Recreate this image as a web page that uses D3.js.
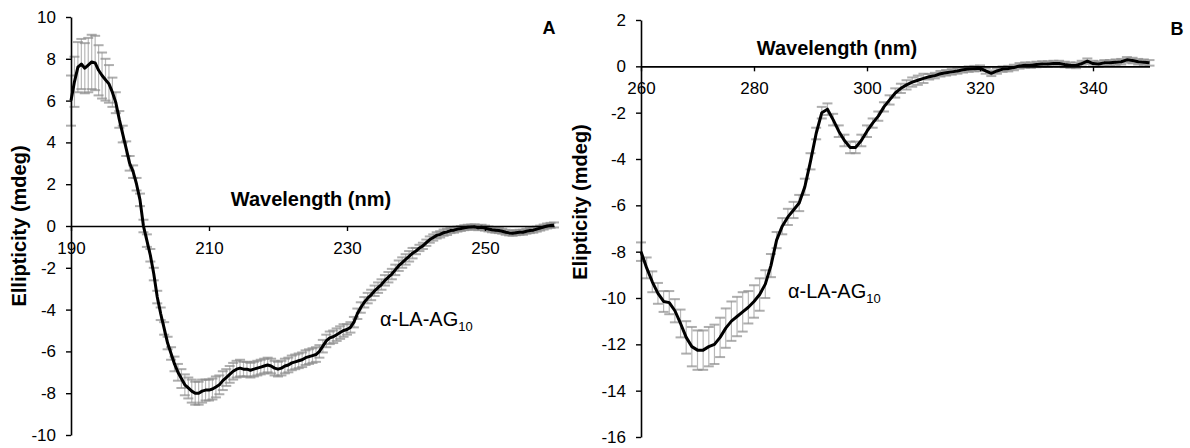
<!DOCTYPE html>
<html>
<head>
<meta charset="utf-8">
<script src="https://cdn.jsdelivr.net/npm/d3@7"></script>
<style>
  body { margin: 0; background: #fff; }
  svg { display: block; font-family: "Liberation Sans", Arial, sans-serif; }
</style>
</head>
<body>
<svg id="chart" width="1190" height="448"></svg>
<script>
// Panel A: far-UV CD, 190-260 nm, read every 0.5 nm
const wavelengthA = d3.range(190, 260.01, 0.5);
const ellipticityA = [
  6.0, 6.9, 7.6, 7.75, 7.55, 7.7, 7.85, 7.8, 7.45, 7.2,
  7.0, 6.8, 6.4, 5.9, 5.1, 4.4, 3.7, 3.0, 2.6, 2.0,
  1.25, 0.0, -0.7, -1.4, -2.3, -3.4, -4.2, -4.9, -5.6, -6.1,
  -6.6, -7.0, -7.3, -7.6, -7.75, -7.9, -8.0, -8.0, -7.9, -7.85,
  -7.85, -7.8, -7.7, -7.6, -7.4, -7.25, -7.1, -6.95, -6.85, -6.8,
  -6.85, -6.85, -6.9, -6.85, -6.8, -6.75, -6.7, -6.65, -6.7, -6.8,
  -6.85, -6.8, -6.7, -6.65, -6.55, -6.5, -6.45, -6.4, -6.3, -6.25,
  -6.2, -6.15, -6.0, -5.75, -5.5, -5.35, -5.3, -5.2, -5.1, -5.0,
  -4.95, -4.85, -4.6, -4.2, -3.9, -3.65, -3.45, -3.3, -3.1, -2.95,
  -2.8, -2.6, -2.45, -2.3, -2.1, -1.9, -1.75, -1.6, -1.45, -1.3,
  -1.2, -1.05, -0.95, -0.8, -0.65, -0.55, -0.45, -0.4, -0.32, -0.28,
  -0.22, -0.2, -0.15, -0.12, -0.08, -0.06, -0.05, -0.04, -0.08, -0.06,
  -0.1, -0.14, -0.18, -0.2, -0.22, -0.25, -0.3, -0.33, -0.35, -0.32,
  -0.3, -0.3, -0.25, -0.22, -0.2, -0.15, -0.1, -0.05, 0.0, 0.03,
  0.05
];
const errorA = [
  1.2, 1.2, 1.2, 1.2, 1.2, 1.3, 1.3, 1.3, 1.2, 1.1,
  1.0, 0.9, 0.7, 0.5, 0.4, 0.4, 0.35, 0.35, 0.3, 0.3,
  0.3, 0.3, 0.3, 0.3, 0.3, 0.3, 0.3, 0.3, 0.3, 0.3,
  0.35, 0.4, 0.45, 0.5, 0.5, 0.55, 0.55, 0.55, 0.55, 0.5,
  0.5, 0.5, 0.5, 0.45, 0.45, 0.4, 0.4, 0.4, 0.4, 0.4,
  0.35, 0.35, 0.35, 0.35, 0.35, 0.35, 0.35, 0.35, 0.35, 0.35,
  0.35, 0.35, 0.35, 0.35, 0.35, 0.35, 0.35, 0.35, 0.35, 0.35,
  0.35, 0.35, 0.3, 0.3, 0.3, 0.3, 0.3, 0.3, 0.3, 0.3,
  0.25, 0.25, 0.25, 0.25, 0.25, 0.25, 0.25, 0.25, 0.25, 0.25,
  0.25, 0.25, 0.25, 0.25, 0.25, 0.25, 0.25, 0.25, 0.25, 0.25,
  0.15, 0.15, 0.15, 0.15, 0.15, 0.15, 0.15, 0.15, 0.15, 0.15,
  0.12, 0.12, 0.12, 0.12, 0.12, 0.12, 0.12, 0.12, 0.12, 0.12,
  0.12, 0.12, 0.12, 0.12, 0.12, 0.12, 0.12, 0.12, 0.12, 0.12,
  0.12, 0.12, 0.12, 0.12, 0.12, 0.12, 0.12, 0.12, 0.12, 0.12,
  0.12
];
const xTicksA = [190, 210, 230, 250];
const yTicksA = [-10, -8, -6, -4, -2, 0, 2, 4, 6, 8, 10];

// Panel B: near-UV CD, 260-350 nm, read every 1 nm
const wavelengthB = d3.range(260, 350.01, 1);
const ellipticityB = [
  -8.0, -8.7, -9.3, -9.8, -10.15, -10.2, -10.55, -11.1, -11.7, -12.1,
  -12.25, -12.25, -12.1, -12.0, -11.7, -11.3, -11.0, -10.8, -10.6, -10.4,
  -10.15, -9.85, -9.4, -8.6, -7.5, -6.9, -6.5, -6.2, -5.9, -5.2,
  -4.1, -2.9, -2.0, -1.85, -2.3, -2.8, -3.2, -3.5, -3.5, -3.2,
  -2.8, -2.45, -2.15, -1.75, -1.45, -1.15, -0.95, -0.8, -0.68, -0.6,
  -0.52, -0.45, -0.4, -0.32, -0.28, -0.24, -0.2, -0.15, -0.12, -0.1,
  -0.08, -0.2, -0.3, -0.2, -0.12, -0.1, -0.05, 0.02, 0.05, 0.05,
  0.08, 0.1, 0.1, 0.12, 0.12, 0.08, 0.05, 0.04, 0.12, 0.22,
  0.12, 0.1, 0.15, 0.15, 0.18, 0.2, 0.28, 0.25, 0.2, 0.18,
  0.15
];
const errorB = [
  0.4, 0.45, 0.45, 0.45, 0.45, 0.5, 0.5, 0.6, 0.7, 0.85,
  0.85, 0.85, 0.85, 0.85, 0.85, 0.85, 0.85, 0.85, 0.85, 0.7,
  0.7, 0.7, 0.6, 0.5, 0.35, 0.35, 0.35, 0.35, 0.35, 0.35,
  0.35, 0.25, 0.25, 0.25, 0.25, 0.25, 0.25, 0.25, 0.25, 0.25,
  0.25, 0.2, 0.2, 0.2, 0.2, 0.2, 0.2, 0.2, 0.2, 0.2,
  0.2, 0.12, 0.12, 0.12, 0.12, 0.12, 0.12, 0.12, 0.12, 0.12,
  0.12, 0.12, 0.12, 0.12, 0.12, 0.12, 0.12, 0.12, 0.12, 0.12,
  0.12, 0.12, 0.12, 0.12, 0.12, 0.12, 0.12, 0.12, 0.12, 0.12,
  0.12, 0.12, 0.12, 0.12, 0.12, 0.12, 0.12, 0.12, 0.12, 0.12,
  0.12
];
const xTicksB = [260, 280, 300, 320, 340];
const yTicksB = [-16, -14, -12, -10, -8, -6, -4, -2, 0, 2];

const sampleLabel = "α-LA-AG";
const sampleSub = "10";

const svg = d3.select("#chart");

function drawPanel(p) {
  const g = svg.append("g");
  const x = d3.scaleLinear().domain(p.xDomain).range(p.xRange);
  const y = d3.scaleLinear().domain(p.yDomain).range(p.yRange);
  const rows = p.wl.map((w, i) => ({ w, v: p.vals[i], e: p.err[i] }));

  // error bars: light stems then grey caps
  g.append("g").selectAll("line").data(rows).join("line")
    .attr("x1", d => x(d.w)).attr("x2", d => x(d.w))
    .attr("y1", d => y(d.v - d.e)).attr("y2", d => y(d.v + d.e))
    .attr("stroke", "#b8b8b8").attr("stroke-width", 1.2);
  const caps = rows.flatMap(d => [{ w: d.w, v: d.v + d.e }, { w: d.w, v: d.v - d.e }]);
  g.append("g").selectAll("line").data(caps).join("line")
    .attr("x1", d => x(d.w) - 5).attr("x2", d => x(d.w) + 5)
    .attr("y1", d => y(d.v)).attr("y2", d => y(d.v))
    .attr("stroke", "#8c8c8c").attr("stroke-opacity", 0.7).attr("stroke-width", 2);

  // axes
  const fmt = d => String(d);
  const xAxis = g.append("g")
    .attr("transform", `translate(0,${y(0)})`)
    .call(d3.axisBottom(x).tickValues(p.xTicks).tickFormat(fmt)
      .tickSize(5).tickSizeOuter(0).tickPadding(11));
  const yAxis = g.append("g")
    .attr("transform", `translate(${x(p.xDomain[0])},0)`)
    .call(d3.axisLeft(y).tickValues(p.yTicks).tickFormat(fmt)
      .tickSize(5).tickSizeOuter(0).tickPadding(10));
  [xAxis, yAxis].forEach(a => {
    a.select(".domain").attr("stroke", "#000").attr("stroke-width", 1.6);
    a.selectAll(".tick line").attr("stroke", "#000").attr("stroke-width", 1.4);
    a.selectAll(".tick text").attr("fill", "#000")
      .style("font-size", "17px").style("font-family", "Liberation Sans, Arial, sans-serif");
  });

  // mean curve
  g.append("path").datum(rows)
    .attr("fill", "none").attr("stroke", "#000").attr("stroke-width", 3)
    .attr("stroke-linejoin", "round")
    .attr("d", d3.line().x(d => x(d.w)).y(d => y(d.v)));

  // titles
  g.append("text").attr("x", p.xTitle[0]).attr("y", p.xTitle[1])
    .attr("text-anchor", "middle").attr("font-weight", "bold").attr("font-size", 20)
    .text("Wavelength (nm)");
  g.append("text")
    .attr("transform", `translate(${p.yTitle[0]},${p.yTitle[1]}) rotate(-90)`)
    .attr("text-anchor", "middle").attr("font-weight", "bold").attr("font-size", 20)
    .text(p.yLabel);
  g.append("text").attr("x", p.letterPos[0]).attr("y", p.letterPos[1])
    .attr("text-anchor", "middle").attr("font-weight", "bold").attr("font-size", 18)
    .text(p.letter);
  const lab = g.append("text").attr("x", p.labelPos[0]).attr("y", p.labelPos[1])
    .attr("font-size", 20);
  lab.append("tspan").text(sampleLabel);
  lab.append("tspan").attr("dy", 5).attr("font-size", 13).text(sampleSub);
}

drawPanel({
  wl: wavelengthA, vals: ellipticityA, err: errorA,
  xDomain: [190, 260], xRange: [71, 554],
  yDomain: [-10, 10], yRange: [435, 17],
  xTicks: xTicksA, yTicks: yTicksA,
  xTitle: [311, 206], yTitle: [26, 226], yLabel: "Ellipticity (mdeg)",
  letter: "A", letterPos: [549, 34], labelPos: [380, 326]
});

drawPanel({
  wl: wavelengthB, vals: ellipticityB, err: errorB,
  xDomain: [260, 350], xRange: [641, 1149.5],
  yDomain: [-16, 2], yRange: [437, 20],
  xTicks: xTicksB, yTicks: yTicksB,
  xTitle: [837, 55], yTitle: [587, 202], yLabel: "Elipticity (mdeg)",
  letter: "B", letterPos: [1177, 35], labelPos: [788, 298]
});
</script>
</body>
</html>
